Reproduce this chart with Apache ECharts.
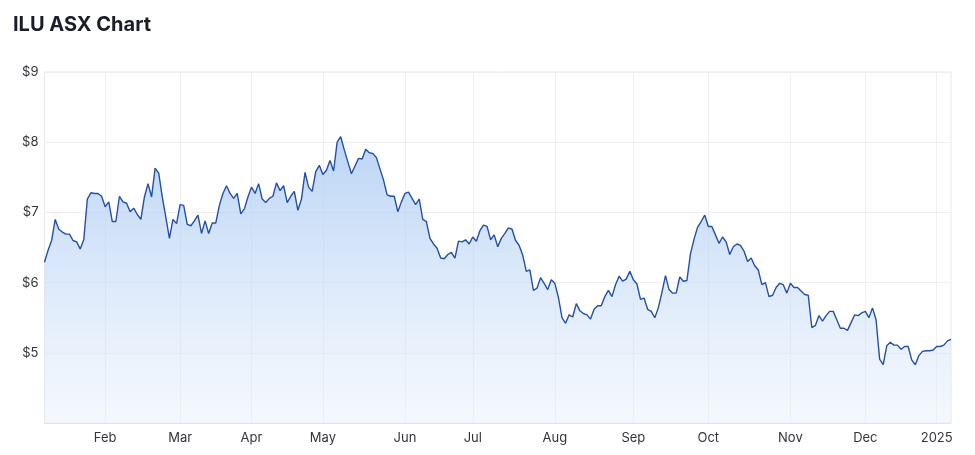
<!DOCTYPE html>
<html>
<head>
<meta charset="utf-8">
<script src="https://cdn.jsdelivr.net/npm/echarts@6/dist/echarts.min.js"></script>
<style>
  html, body { margin: 0; padding: 0; background: #fff; }
  #chart { width: 975px; height: 455px; }
</style>
</head>
<body>
<div id="chart"></div>
<script>
// ASX trading days, 8 Jan 2024 - 8 Jan 2025
const firstDay = '2024-01-08'
const lastDay = '2025-01-08'
const holidays = ['2024-01-01', '2024-01-26', '2024-03-29', '2024-04-01', '2024-04-25',
  '2024-06-10', '2024-12-25', '2024-12-26', '2025-01-01']
const monthNames = ['Jan', 'Feb', 'Mar', 'Apr', 'May', 'Jun', 'Jul', 'Aug', 'Sep', 'Oct', 'Nov', 'Dec']

// closing prices, one per trading day
const closePrices = [
  6.29, 6.46, 6.60, 6.90, 6.76, 6.72, 6.69, 6.69, 6.60, 6.58, 6.48, 6.61, 7.19, 7.28, 7.27, 7.27, 7.23,
  7.08, 7.15, 6.87, 6.87, 7.23, 7.15, 7.13, 7.01, 7.06, 6.97, 6.90, 7.22, 7.41, 7.22, 7.63, 7.56, 7.22, 6.93, 6.63, 6.90, 6.84,
  7.11, 7.10, 6.83, 6.81, 6.88, 6.96, 6.70, 6.88, 6.70, 6.85, 6.85, 7.10, 7.27, 7.38, 7.27, 7.20, 7.27, 6.98, 7.05, 7.22,
  7.36, 7.27, 7.41, 7.19, 7.14, 7.20, 7.23, 7.42, 7.31, 7.38, 7.14, 7.23, 7.30, 7.03, 7.19, 7.57, 7.36, 7.30, 7.58, 7.67,
  7.54, 7.60, 7.74, 7.59, 8.00, 8.08, 7.89, 7.72, 7.55, 7.66, 7.77, 7.76, 7.90, 7.85, 7.84, 7.78, 7.62, 7.46, 7.25, 7.23, 7.23, 7.01, 7.15,
  7.27, 7.29, 7.20, 7.11, 7.19, 6.90, 6.87, 6.63, 6.55, 6.49, 6.35, 6.34, 6.40, 6.43, 6.35, 6.59, 6.58, 6.61, 6.55,
  6.65, 6.59, 6.74, 6.82, 6.80, 6.61, 6.68, 6.51, 6.63, 6.70, 6.78, 6.76, 6.60, 6.53, 6.39, 6.16, 6.18, 5.89, 5.92, 6.07, 5.99, 5.90, 6.04,
  5.99, 5.79, 5.50, 5.42, 5.54, 5.51, 5.70, 5.60, 5.56, 5.54, 5.48, 5.62, 5.67, 5.67, 5.80, 5.89, 5.80, 5.97, 6.09, 6.02, 6.05, 6.16,
  6.04, 5.98, 5.76, 5.78, 5.62, 5.59, 5.50, 5.64, 5.86, 6.10, 5.90, 5.85, 5.85, 6.08, 6.02, 6.03, 6.41, 6.62, 6.79, 6.87, 6.96,
  6.80, 6.80, 6.68, 6.56, 6.65, 6.58, 6.40, 6.51, 6.55, 6.53, 6.45, 6.30, 6.35, 6.24, 6.18, 5.97, 6.00, 5.80, 5.82, 5.93, 5.99, 5.97, 5.85,
  5.99, 5.93, 5.93, 5.88, 5.83, 5.82, 5.36, 5.39, 5.53, 5.45, 5.53, 5.59, 5.59, 5.47, 5.35, 5.35, 5.32, 5.43, 5.54, 5.53, 5.57,
  5.59, 5.50, 5.64, 5.47, 4.91, 4.83, 5.10, 5.15, 5.11, 5.11, 5.05, 5.09, 5.09, 4.90, 4.83, 4.96, 5.02, 5.03, 5.03, 5.04,
  5.09, 5.09, 5.11, 5.17, 5.19
]

const yTicks = [4, 5, 6, 7, 8, 9]

// build the trading day list
let tradingDays = []
let d = new Date(firstDay + 'T00:00:00Z')
const end = new Date(lastDay + 'T00:00:00Z')
while (d <= end) {
  let s = d.toISOString().slice(0, 10)
  let wd = d.getUTCDay()
  if (wd !== 0 && wd !== 6 && holidays.indexOf(s) < 0) tradingDays.push(s)
  d.setUTCDate(d.getUTCDate() + 1)
}

// first trading day of each month gets a label and a grid line
function isMonthStart(index) {
  if (index === 0) return false
  return tradingDays[index].slice(0, 7) !== tradingDays[index - 1].slice(0, 7)
}

let myChart = echarts.init(document.getElementById('chart'))
myChart.setOption({
  animation: false,
  title: {
    text: 'ILU ASX Chart',
    left: 8,
    top: 10,
    textStyle: {
      fontFamily: 'Inter',
      fontSize: 20,
      fontWeight: 700,
      color: '#1b1d2b'
    }
  },
  grid: {
    show: true,
    left: 44.5,
    right: 24,
    top: 72,
    bottom: 32,
    borderColor: '#e8e8e8',
    borderWidth: 1
  },
  xAxis: {
    type: 'category',
    boundaryGap: false,
    data: tradingDays,
    axisLine: { show: true, lineStyle: { color: '#e4e4e4' } },
    axisTick: { show: false },
    axisLabel: {
      interval: function (index) { return isMonthStart(index) },
      margin: 9,
      fontFamily: 'Inter',
      fontSize: 13,
      color: '#34343c',
      formatter: function (value) {
        let m = parseInt(value.slice(5, 7)) - 1
        return m === 0 ? value.slice(0, 4) : monthNames[m]
      }
    },
    splitLine: {
      show: true,
      interval: function (index) { return isMonthStart(index) },
      lineStyle: { color: '#efeff1' }
    }
  },
  yAxis: {
    type: 'value',
    min: yTicks[0],
    max: yTicks[yTicks.length - 1],
    interval: 1,
    axisLine: { show: false },
    axisTick: { show: false },
    axisLabel: {
      showMinLabel: false,
      margin: 6,
      fontFamily: 'Inter',
      fontSize: 13,
      color: '#34343c',
      formatter: function (v) { return '$' + v }
    },
    splitLine: { lineStyle: { color: '#efeff1' } }
  },
  series: [
    {
      name: 'ILU',
      type: 'line',
      data: closePrices,
      symbol: 'none',
      smooth: false,
      lineStyle: { color: '#2350a3', width: 1.4 },
      areaStyle: {
        opacity: 1,
        color: new echarts.graphic.LinearGradient(0, 0, 0, 1, [
          { offset: 0, color: 'rgba(160, 196, 240, 0.72)' },
          { offset: 1, color: 'rgba(232, 240, 253, 0.45)' }
        ])
      }
    }
  ]
})
</script>
</body>
</html>
